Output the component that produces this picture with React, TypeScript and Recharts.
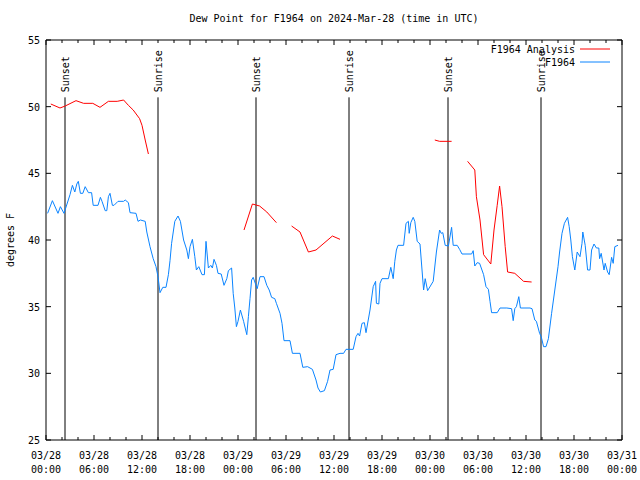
import React from 'react';
import { LineChart, Line, XAxis, YAxis, ReferenceLine, Legend } from 'recharts';

const FONT = '"DejaVu Sans Mono", "Liberation Mono", monospace';

// hours since 2024-03-28 00:00 UTC
const obsHours = [
  0.2, 0.8, 1.5, 1.8, 2.25, 3.0, 3.3, 3.6, 3.85, 4.04, 4.3, 4.6, 4.9, 5.3, 5.7, 5.9, 6.5, 6.8, 7.0, 7.4,
  7.6, 7.8, 8.0, 8.3, 8.5, 9.0, 9.7, 9.9, 10.3, 10.5, 11.25, 11.5, 11.8, 12.4, 12.6, 13.0, 13.4, 13.75, 14.0, 14.25,
  14.6, 15.0, 15.3, 15.5, 15.7, 16.1, 16.5, 16.8, 17.2, 17.6, 17.8, 18.0, 18.3, 18.6, 18.8, 19.1, 19.5, 19.8, 20.0, 20.3,
  20.6, 20.8, 21.0, 21.3, 21.5, 21.9, 22.25, 22.6, 22.8, 23.2, 23.4, 23.6, 23.8, 24.0, 24.3, 24.7, 24.9, 25.1, 25.3, 25.5,
  25.7, 25.9, 26.25, 26.4, 26.75, 27.25, 27.6, 27.9, 28.2, 28.6, 28.8, 29.25, 29.5, 29.75, 30.5, 30.8, 31.75, 32.1, 32.7, 33.3,
  33.75, 34.0, 34.3, 34.8, 35.2, 35.5, 35.9, 36.25, 36.75, 37.2, 37.5, 38.4, 38.75, 39.0, 39.2, 39.5, 39.8, 40.0, 40.5, 40.9,
  41.2, 41.3, 41.6, 41.75, 42.0, 42.8, 43.1, 43.4, 43.6, 43.8, 44.0, 44.7, 45.0, 45.3, 45.4, 45.6, 45.9, 46.1, 46.4, 46.75,
  47.1, 47.2, 47.4, 47.7, 47.9, 48.4, 48.8, 49.2, 49.4, 49.6, 49.9, 50.3, 50.7, 50.9, 51.4, 51.7, 52.0, 53.2, 53.4, 53.6,
  53.9, 54.2, 54.7, 55.0, 55.3, 55.5, 55.7, 56.4, 56.75, 57.6, 58.2, 58.4, 58.6, 58.8, 59.1, 59.3, 60.5, 60.75, 61.1, 61.3,
  61.7, 61.9, 62.2, 62.5, 62.8, 63.2, 63.6, 64.0, 64.2, 64.5, 64.8, 65.2, 65.4, 65.6, 65.8, 66.1, 66.4, 66.75, 67.0, 67.1,
  67.4, 67.7, 68.0, 68.2, 68.5, 68.8, 69.1, 69.2, 69.4, 69.75, 69.9, 70.2, 70.4, 70.7, 70.9, 71.1, 71.5,
];
const obsDew = [
  42.0, 42.95, 42.0, 42.5, 42.0, 43.4, 44.1, 43.6, 44.2, 44.4, 43.5, 43.5, 44.0, 43.55, 43.55, 42.6, 42.6, 43.2, 42.9, 42.2,
  42.2, 43.25, 43.5, 42.6, 42.6, 42.9, 42.9, 43.0, 42.8, 42.05, 42.0, 41.4, 41.5, 41.4, 40.6, 39.5, 38.6, 38.0, 37.25, 36.05,
  36.45, 36.45, 37.4, 38.45, 39.75, 41.4, 41.8, 41.4, 40.0, 39.25, 38.6, 39.5, 40.05, 38.75, 37.75, 38.0, 37.4, 37.4, 39.9, 37.9,
  38.1, 37.9, 38.55, 38.1, 37.5, 37.45, 36.6, 37.1, 37.7, 37.9, 36.0, 34.9, 33.5, 33.9, 34.75, 33.9, 33.4, 32.9, 34.25, 35.6,
  37.0, 37.2, 36.6, 36.35, 37.25, 37.25, 36.6, 36.25, 35.7, 35.6, 35.25, 34.5, 33.75, 32.45, 32.45, 31.5, 31.5, 30.45, 30.5, 30.3,
  29.5, 28.9, 28.6, 28.7, 29.4, 30.25, 30.3, 31.4, 31.5, 31.5, 31.8, 31.8, 32.75, 33.0, 32.8, 33.75, 33.8, 33.05, 34.75, 36.5,
  36.9, 35.25, 35.2, 36.75, 37.1, 37.1, 37.95, 37.1, 38.4, 39.25, 39.6, 39.6, 41.25, 41.4, 40.5, 41.3, 41.7, 41.4, 39.9, 39.7,
  37.0, 36.25, 37.1, 36.2, 36.4, 36.9, 39.1, 40.75, 40.5, 40.55, 39.6, 39.55, 40.95, 39.6, 39.6, 39.3, 38.95, 38.95, 39.2, 38.05,
  38.3, 38.25, 37.4, 36.5, 36.3, 35.4, 34.55, 34.55, 34.9, 34.9, 34.85, 33.95, 34.85, 35.0, 35.75, 34.9, 34.9, 34.85, 34.0, 33.9,
  33.0, 32.75, 32.0, 32.0, 32.6, 34.5, 36.25, 38.0, 39.1, 40.5, 41.25, 41.7, 41.0, 40.0, 38.75, 37.75, 39.1, 38.75, 39.75, 40.6,
  39.6, 37.75, 37.75, 39.25, 39.7, 39.4, 39.4, 38.6, 39.0, 37.75, 38.25, 37.6, 37.4, 38.7, 38.25, 39.5, 39.6,
];

// analysis series, null = missing
const anaHours = [
  0.6, 1.75, 2.4, 3.75, 4.7, 5.85, 6.75, 7.8, 8.9, 9.7, 10.3, 10.9, 11.7, 12.0, 12.4, 12.8,
  18.0,
  24.75, 25.8, 26.7, 27.6, 28.8,
  29.8,
  30.7, 31.75, 32.8, 33.75, 35.8, 36.75,
  42.0,
  48.6, 49.2, 50.7,
  51.7,
  52.7, 53.6, 53.8, 54.25, 54.7, 55.6, 56.0, 56.4, 56.7, 57.0, 57.4, 57.7, 58.6, 59.7, 60.7,
];
const anaDew = [
  50.2, 49.9, 50.05, 50.45, 50.25, 50.25, 49.95, 50.4, 50.4, 50.5, 50.1, 49.75, 49.1, 48.6, 47.5, 46.45,
  null,
  40.75, 42.7, 42.55, 42.1, 41.3,
  null,
  41.05, 40.6, 39.1, 39.25, 40.3, 40.05,
  null,
  47.5, 47.4, 47.4,
  null,
  45.9, 45.25, 43.25, 41.5, 38.9, 38.2, 40.75, 42.6, 44.05, 42.5, 39.5, 37.6, 37.5, 36.9, 36.85,
];

const sunHours = [2.375, 14.0, 26.25, 37.875, 50.25, 61.875];
const sunNames = ['Sunset', 'Sunrise', 'Sunset', 'Sunrise', 'Sunset', 'Sunrise'];

const xTicks = [
  0, 2, 4, 6, 8, 10, 12, 14, 16, 18, 20, 22, 24, 26, 28, 30, 32, 34, 36,
  38, 40, 42, 44, 46, 48, 50, 52, 54, 56, 58, 60, 62, 64, 66, 68, 70, 72,
];
const tickDates = ['03/28', '03/28', '03/28', '03/28', '03/29', '03/29', '03/29', '03/29', '03/30', '03/30', '03/30', '03/30', '03/31'];
const tickTimes = ['00:00', '06:00', '12:00', '18:00', '00:00', '06:00', '12:00', '18:00', '00:00', '06:00', '12:00', '18:00', '00:00'];
const yTicks = [25, 30, 35, 40, 45, 50, 55];
const legendOrder = ['F1964 Analysis', 'F1964'];

const obsData = obsHours.map((h, i) => ({ h, v: obsDew[i] }));
const anaData = anaHours.map((h, i) => ({ h, v: anaDew[i] }));

const tickLen = (h: number) => (h % 6 === 0 ? 5 : 3);

const BottomTick = (props: any) => {
  const { x, y, payload } = props;
  const h = payload.value;
  const i = h / 6;
  return (
    <g>
      <line x1={x} x2={x} y1={y} y2={y - tickLen(h)} stroke="#000" />
      {h % 6 === 0 && (
        <text textAnchor="middle" fontFamily={FONT} fontSize={10} fill="#000">
          <tspan x={x} y={y + 19}>{tickDates[i]}</tspan>
          <tspan x={x} y={y + 33}>{tickTimes[i]}</tspan>
        </text>
      )}
    </g>
  );
};

const TopTick = (props: any) => {
  const { x, y, payload } = props;
  return <line x1={x} x2={x} y1={y} y2={y + tickLen(payload.value)} stroke="#000" />;
};

const LeftTick = (props: any) => {
  const { x, y, payload } = props;
  return (
    <g>
      <line x1={x} x2={x + 5} y1={y} y2={y} stroke="#000" />
      <text x={x - 6} y={y + 4} textAnchor="end" fontFamily={FONT} fontSize={10} fill="#000">
        {payload.value}
      </text>
    </g>
  );
};

const RightTick = (props: any) => {
  const { x, y } = props;
  return <line x1={x} x2={x - 5} y1={y} y2={y} stroke="#000" />;
};

const SunLabel = ({ viewBox, name }: any) => {
  const cx = viewBox.x + 4;
  const cy = viewBox.y - 5;
  return (
    <text x={cx} y={cy} transform={`rotate(-90 ${cx} ${cy})`} fontFamily={FONT} fontSize={10} fill="#000">
      {name}
    </text>
  );
};

const YLabel = ({ viewBox }: any) => {
  const cx = 14;
  const cy = viewBox.y + viewBox.height / 2;
  return (
    <text x={cx} y={cy} textAnchor="middle" transform={`rotate(-90 ${cx} ${cy})`} fontFamily={FONT} fontSize={10} fill="#000">
      degrees F
    </text>
  );
};

const LegendBox = ({ payload }: any) => {
  const items = [...(payload || [])].sort(
    (a: any, b: any) => legendOrder.indexOf(a.value) - legendOrder.indexOf(b.value),
  );
  return (
    <svg width={150} height={32}>
      {items.map((p: any, i: number) => (
        <g key={p.value}>
          <text x={105} y={13 + i * 13} textAnchor="end" fontFamily={FONT} fontSize={10} fill="#000">
            {p.value}
          </text>
          <line x1={110} x2={140} y1={9 + i * 13} y2={9 + i * 13} stroke={p.color} />
        </g>
      ))}
    </svg>
  );
};

export default function App() {
  return (
    <div style={{ position: 'absolute', left: 0, top: 0, width: 640, height: 480, background: '#fff' }}>
      <div
        style={{
          position: 'absolute', left: 46, top: 14, width: 576, textAlign: 'center',
          fontFamily: FONT, fontSize: 10, lineHeight: '10px', color: '#000',
        }}
      >
        Dew Point for F1964 on 2024-Mar-28 (time in UTC)
      </div>
      <LineChart width={640} height={480} margin={{ top: 20, right: 0, bottom: 0, left: 0 }}>
        <XAxis
          dataKey="h" type="number" domain={[0, 72]} ticks={xTicks} interval={0} allowDataOverflow
          height={40} tickSize={0} tickMargin={0} tick={BottomTick} axisLine={{ stroke: '#000' }}
        />
        <XAxis
          xAxisId="top" orientation="top" dataKey="h" type="number" domain={[0, 72]} ticks={xTicks} interval={0}
          allowDataOverflow height={20} tickSize={0} tickMargin={0} tick={TopTick} axisLine={{ stroke: '#000' }}
        />
        <YAxis
          type="number" domain={[25, 55]} ticks={yTicks} interval={0} allowDataOverflow width={46}
          tickSize={0} tickMargin={0} tick={LeftTick} axisLine={{ stroke: '#000' }} label={YLabel}
        />
        <YAxis
          yAxisId="right" orientation="right" type="number" domain={[25, 55]} ticks={yTicks} interval={0}
          allowDataOverflow width={18} tickSize={0} tickMargin={0} tick={RightTick} axisLine={{ stroke: '#000' }}
        />
        {sunHours.map((h, i) => (
          <ReferenceLine
            key={i}
            segment={[{ x: h, y: 25 }, { x: h, y: 50.7 }]}
            stroke="#000"
            strokeWidth={1}
            label={(p: any) => <SunLabel {...p} name={sunNames[i]} />}
          />
        ))}
        <Line
          data={anaData} dataKey="v" name="F1964 Analysis" stroke="#ff0000" strokeWidth={1}
          dot={false} activeDot={false} isAnimationActive={false} type="linear"
        />
        <Line
          data={obsData} dataKey="v" name="F1964" stroke="#0a84ff" strokeWidth={1}
          dot={false} activeDot={false} isAnimationActive={false} type="linear"
        />
        <Legend
          layout="horizontal" verticalAlign="middle" align="center" content={LegendBox}
          wrapperStyle={{ position: 'absolute', left: 470, top: 40, width: 150, height: 32 }}
        />
      </LineChart>
    </div>
  );
}
